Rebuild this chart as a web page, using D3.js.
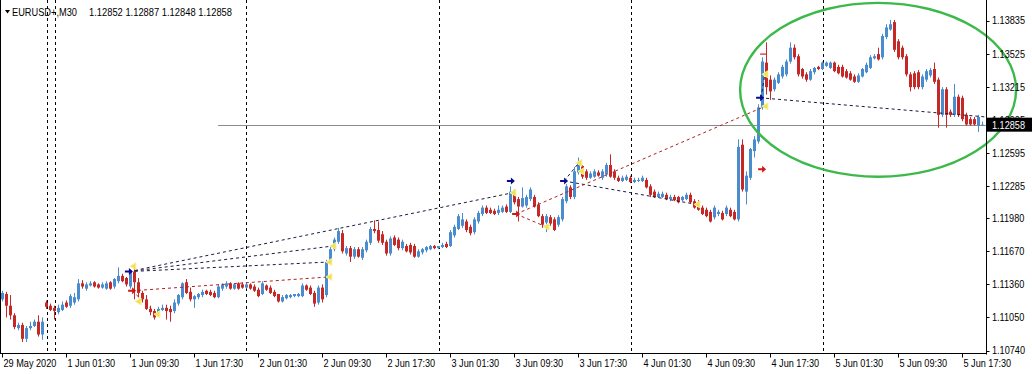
<!DOCTYPE html>
<html><head><meta charset="utf-8">
<script src="https://cdn.jsdelivr.net/npm/d3@7"></script>
<style>body{margin:0;background:#fff;}svg{display:block;}</style>
</head><body>
<svg id="c" width="1032" height="374"></svg>
<script>
const symbolTitle = "EURUSD+,M30";
const titleQuote = "1.12852 1.12887 1.12848 1.12858";
const lastPrice = 1.12858;
const lastPriceLabel = "1.12858";

const opens = [1.1122,1.1127,1.1116,1.1107,1.1095,1.1098,1.1085,1.1095,1.1097,1.1101,1.1089,1.1119,1.1116,1.1114,1.1110,1.1112,1.1119,1.1116,1.1119,1.1122,
1.1137,1.1132,1.1135,1.1138,1.1136,1.1133,1.1132,1.1138,1.1134,1.1139,1.1144,1.1142,1.1134,1.1148,1.1138,1.1128,1.1122,1.1113,1.1111,1.1108,
1.1112,1.1114,1.1113,1.1111,1.1118,1.1124,1.1138,1.1129,1.1122,1.1124,1.1126,1.1130,1.1129,1.1128,1.1124,1.1132,1.1134,1.1137,1.1132,1.1137,
1.1136,1.1133,1.1136,1.1134,1.1131,1.1127,1.1135,1.1133,1.1129,1.1127,1.1120,1.1123,1.1124,1.1125,1.1125,1.1125,1.1135,1.1133,1.1128,1.1119,
1.1133,1.1126,1.1157,1.1169,1.1176,1.1184,1.1165,1.1170,1.1162,1.1169,1.1161,1.1168,1.1175,1.1188,1.1187,1.1183,1.1176,1.1165,1.1180,1.1178,
1.1170,1.1172,1.1173,1.1172,1.1162,1.1166,1.1168,1.1169,1.1172,1.1170,1.1171,1.1174,1.1172,1.1182,1.1188,1.1191,1.1195,1.1190,1.1185,1.1195,
1.1202,1.1208,1.1206,1.1205,1.1203,1.1204,1.1209,1.1204,1.1222,1.1216,1.1209,1.1210,1.1216,1.1218,1.1211,1.1200,1.1194,1.1199,1.1197,1.1192,
1.1197,1.1214,1.1227,1.1218,1.1241,1.1247,1.1242,1.1236,1.1237,1.1241,1.1236,1.1239,1.1248,1.1242,1.1236,1.1233,1.1234,1.1236,1.1232,1.1233,
1.1233,1.1234,1.1228,1.1223,1.1218,1.1218,1.1220,1.1216,1.1218,1.1218,1.1215,1.1216,1.1220,1.1214,1.1213,1.1208,1.1206,1.1204,1.1199,1.1202,
1.1203,1.1202,1.1206,1.1204,1.1197,1.1267,1.1223,1.1236,1.1261,1.1270,1.1302,1.1344,1.1328,1.1319,1.1325,1.1331,1.1333,1.1345,1.1358,1.1350,
1.1338,1.1333,1.1328,1.1335,1.1340,1.1338,1.1341,1.1339,1.1344,1.1340,1.1340,1.1336,1.1334,1.1331,1.1326,1.1331,1.1335,1.1339,1.1348,1.1352,
1.1349,1.1368,1.1375,1.1382,1.1364,1.1358,1.1350,1.1333,1.1334,1.1335,1.1321,1.1328,1.1332,1.1338,1.1328,1.1295,1.1319,1.1298,1.1295,1.1312,
1.1311,1.1295,1.1291,1.1291,1.1285,1.12852];
const highs = [1.1130,1.1129,1.1126,1.1109,1.1100,1.1100,1.1097,1.1101,1.1103,1.1107,1.1105,1.1121,1.1118,1.1116,1.1117,1.1120,1.1121,1.1127,1.1128,1.1141,
1.1140,1.1138,1.1139,1.1139,1.1137,1.1138,1.1139,1.1139,1.1142,1.1152,1.1146,1.1143,1.1150,1.1152,1.1142,1.1130,1.1126,1.1116,1.1113,1.1115,
1.1117,1.1117,1.1116,1.1122,1.1127,1.1138,1.1141,1.1133,1.1126,1.1128,1.1131,1.1131,1.1131,1.1130,1.1136,1.1137,1.1139,1.1138,1.1137,1.1138,
1.1138,1.1138,1.1137,1.1136,1.1133,1.1139,1.1136,1.1135,1.1131,1.1127,1.1126,1.1127,1.1127,1.1127,1.1128,1.1137,1.1136,1.1135,1.1130,1.1135,
1.1136,1.1159,1.1171,1.1180,1.1189,1.1187,1.1172,1.1172,1.1171,1.1171,1.1171,1.1178,1.1190,1.1196,1.1195,1.1186,1.1178,1.1181,1.1182,1.1180,
1.1178,1.1174,1.1175,1.1174,1.1169,1.1170,1.1172,1.1173,1.1173,1.1172,1.1175,1.1176,1.1187,1.1192,1.1202,1.1203,1.1197,1.1192,1.1199,1.1205,
1.1210,1.1210,1.1208,1.1207,1.1210,1.1210,1.1211,1.1228,1.1225,1.1218,1.1227,1.1220,1.1227,1.1220,1.1213,1.1202,1.1202,1.1201,1.1199,1.1201,
1.1218,1.1230,1.1229,1.1246,1.1255,1.1248,1.1244,1.1242,1.1244,1.1243,1.1244,1.1250,1.1258,1.1244,1.1238,1.1238,1.1239,1.1238,1.1236,1.1236,
1.1238,1.1236,1.1230,1.1225,1.1223,1.1223,1.1222,1.1220,1.1220,1.1219,1.1219,1.1222,1.1222,1.1216,1.1215,1.1210,1.1208,1.1206,1.1210,1.1206,
1.1205,1.1210,1.1208,1.1206,1.1272,1.1272,1.1242,1.1264,1.1275,1.1305,1.1349,1.1363,1.1332,1.1330,1.1335,1.1342,1.1347,1.1363,1.1361,1.1352,
1.1339,1.1335,1.1338,1.1340,1.1341,1.1345,1.1345,1.1345,1.1345,1.1342,1.1342,1.1338,1.1336,1.1333,1.1334,1.1339,1.1344,1.1351,1.1352,1.1358,
1.1371,1.1380,1.1384,1.1384,1.1366,1.1360,1.1352,1.1335,1.1336,1.1337,1.1333,1.1338,1.1339,1.1344,1.1330,1.1321,1.1321,1.1300,1.1324,1.1314,
1.1313,1.1297,1.1293,1.1293,1.1295,1.12887];
const lows = [1.1120,1.1105,1.1103,1.1094,1.1093,1.1082,1.1082,1.1093,1.1096,1.1087,1.1084,1.1113,1.1111,1.1103,1.1108,1.1111,1.1114,1.1114,1.1117,1.1120,
1.1132,1.1130,1.1134,1.1133,1.1132,1.1132,1.1131,1.1131,1.1132,1.1137,1.1138,1.1134,1.1132,1.1122,1.1124,1.1119,1.1112,1.1107,1.1103,1.1106,
1.1111,1.1103,1.1101,1.1109,1.1116,1.1122,1.1127,1.1120,1.1114,1.1122,1.1124,1.1126,1.1125,1.1123,1.1123,1.1130,1.1132,1.1131,1.1131,1.1131,
1.1132,1.1132,1.1131,1.1129,1.1124,1.1126,1.1130,1.1127,1.1124,1.1119,1.1119,1.1122,1.1123,1.1124,1.1124,1.1124,1.1130,1.1126,1.1115,1.1117,
1.1119,1.1124,1.1156,1.1167,1.1174,1.1165,1.1163,1.1157,1.1160,1.1161,1.1159,1.1166,1.1173,1.1184,1.1175,1.1173,1.1163,1.1163,1.1172,1.1168,
1.1168,1.1166,1.1164,1.1161,1.1161,1.1164,1.1166,1.1168,1.1169,1.1169,1.1170,1.1170,1.1171,1.1180,1.1187,1.1189,1.1185,1.1182,1.1183,1.1193,
1.1200,1.1202,1.1202,1.1201,1.1201,1.1203,1.1203,1.1203,1.1211,1.1195,1.1208,1.1208,1.1214,1.1208,1.1199,1.1189,1.1185,1.1191,1.1186,1.1190,
1.1195,1.1212,1.1216,1.1216,1.1239,1.1235,1.1234,1.1235,1.1236,1.1237,1.1234,1.1237,1.1236,1.1234,1.1232,1.1232,1.1233,1.1231,1.1231,1.1232,
1.1232,1.1226,1.1218,1.1217,1.1217,1.1217,1.1215,1.1214,1.1214,1.1212,1.1214,1.1215,1.1212,1.1207,1.1205,1.1201,1.1199,1.1194,1.1197,1.1200,
1.1196,1.1200,1.1199,1.1196,1.1195,1.1223,1.1211,1.1234,1.1255,1.1268,1.1300,1.1314,1.1309,1.1317,1.1324,1.1329,1.1331,1.1343,1.1347,1.1331,
1.1329,1.1326,1.1327,1.1333,1.1337,1.1337,1.1340,1.1338,1.1335,1.1333,1.1330,1.1329,1.1327,1.1325,1.1325,1.1330,1.1334,1.1338,1.1347,1.1346,
1.1347,1.1366,1.1374,1.1354,1.1347,1.1347,1.1331,1.1317,1.1319,1.1319,1.1319,1.1326,1.1330,1.1324,1.1283,1.1293,1.1283,1.1293,1.1293,1.1293,
1.1289,1.1285,1.1285,1.1285,1.1279,1.12848];
const closes = [1.1128,1.1116,1.1107,1.1096,1.1098,1.1085,1.1095,1.1097,1.1101,1.1089,1.1101,1.1115,1.1112,1.1111,1.1114,1.1117,1.1115,1.1125,1.1124,1.1137,
1.1134,1.1136,1.1137,1.1134,1.1133,1.1136,1.1137,1.1132,1.1141,1.1144,1.1139,1.1136,1.1148,1.1138,1.1128,1.1122,1.1113,1.1110,1.1105,1.1113,
1.1114,1.1111,1.1110,1.1119,1.1126,1.1137,1.1128,1.1122,1.1125,1.1127,1.1129,1.1127,1.1126,1.1124,1.1134,1.1136,1.1137,1.1132,1.1136,1.1132,
1.1133,1.1136,1.1132,1.1130,1.1125,1.1137,1.1131,1.1128,1.1125,1.1120,1.1124,1.1126,1.1126,1.1127,1.1127,1.1135,1.1131,1.1127,1.1118,1.1133,
1.1122,1.1157,1.1169,1.1178,1.1186,1.1167,1.1170,1.1162,1.1169,1.1162,1.1169,1.1176,1.1188,1.1186,1.1177,1.1175,1.1165,1.1179,1.1173,1.1170,
1.1176,1.1167,1.1166,1.1162,1.1167,1.1169,1.1171,1.1172,1.1170,1.1172,1.1173,1.1171,1.1185,1.1190,1.1200,1.1197,1.1187,1.1184,1.1197,1.1203,
1.1208,1.1203,1.1203,1.1202,1.1206,1.1208,1.1204,1.1223,1.1213,1.1209,1.1217,1.1218,1.1225,1.1209,1.1200,1.1192,1.1200,1.1193,1.1187,1.1199,
1.1216,1.1228,1.1218,1.1242,1.1250,1.1237,1.1236,1.1240,1.1242,1.1238,1.1242,1.1248,1.1237,1.1236,1.1233,1.1236,1.1237,1.1232,1.1234,1.1234,
1.1236,1.1227,1.1220,1.1218,1.1221,1.1221,1.1216,1.1218,1.1215,1.1213,1.1218,1.1220,1.1213,1.1208,1.1206,1.1202,1.1200,1.1195,1.1208,1.1204,
1.1197,1.1208,1.1200,1.1197,1.1265,1.1225,1.1238,1.1263,1.1272,1.1302,1.1345,1.1321,1.1317,1.1328,1.1333,1.1340,1.1345,1.1358,1.1349,1.1333,
1.1331,1.1328,1.1336,1.1339,1.1338,1.1344,1.1344,1.1344,1.1336,1.1334,1.1331,1.1330,1.1328,1.1326,1.1332,1.1338,1.1342,1.1349,1.1350,1.1347,
1.1369,1.1377,1.1380,1.1356,1.1349,1.1349,1.1333,1.1321,1.1321,1.1321,1.1331,1.1336,1.1337,1.1326,1.1295,1.1319,1.1295,1.1295,1.1312,1.1295,
1.1291,1.1286,1.1286,1.1286,1.1293,1.12858];

const xTickLabels = ["29 May 2020","1 Jun 01:30","1 Jun 09:30","1 Jun 17:30","2 Jun 01:30","2 Jun 09:30","2 Jun 17:30","3 Jun 01:30",
"3 Jun 09:30","3 Jun 17:30","4 Jun 01:30","4 Jun 09:30","4 Jun 17:30","5 Jun 01:30","5 Jun 09:30","5 Jun 17:30"];
const xTickBars = [0,16,32,48,64,80,96,112,128,144,160,176,192,208,224,240];
const yTickLabels = ["1.13835","1.13525","1.13215","1.12905","1.12595","1.12285","1.11980","1.11670","1.11360","1.11050","1.10740"];
const separatorBars = [11.25,13,61,109,157,205];

const buyArrows = [[31.6,1.1148],[127.1,1.1233],[140.4,1.1233],[189.4,1.1311]];
const sellArrows = [[32.4,1.1130],[128.4,1.1202],[189.9,1.1244]];
const closeMarks = [[32.6,1.1153],[33.9,1.1120],[38.6,1.1108],[81.6,1.1157],[82.6,1.1172],[81.6,1.1143],[127.6,1.1222],
[135.9,1.1190],[144.1,1.1250],[144.6,1.1242],[173.6,1.1211],[190.6,1.1333],[190.6,1.1303]];
const buyLines = [[31.6,1.1148,127.6,1.1222],[31.6,1.1148,82.6,1.1172],[31.6,1.1148,81.6,1.1157],[140.4,1.1233,144.1,1.1250],
[140.4,1.1233,173.6,1.1211],[189.4,1.1311,246,1.1293],[189.6,1.1311,190.6,1.1333]];
const sellLines = [[32.4,1.1130,81.6,1.1143],[32.4,1.1130,38.6,1.1108],[128.4,1.1202,135.9,1.1190],[128.4,1.1202,190.6,1.1303]];
const stopMark = [189.4,191.1,1.1352];
const ellipseBars = [184.4,253.4];
const ellipsePrices = [1.1400,1.1237];
const priceLineStartBar = 53.9;

const plotRight = 986.5, plotBottom = 353.5;
const svg = d3.select("#c");
const x = d3.scaleLinear().domain([0, 246]).range([2.5, 986.5]);
const y = d3.scaleLinear().domain([1.10740, 1.13835]).range([350.5, 20.5]);
const UP = "#4a8cd0", DN = "#c62828";
const FONT = "'Liberation Sans', Arial, sans-serif";

function narrow(sel, f) {
  sel.each(function(){ const L = this.getComputedTextLength(); this.setAttribute("textLength", (L*f).toFixed(1)); this.setAttribute("lengthAdjust","spacingAndGlyphs"); });
}

svg.append("g").selectAll("line").data(separatorBars).join("line")
  .attr("x1", d => Math.round(x(d)) + 0.5).attr("x2", d => Math.round(x(d)) + 0.5)
  .attr("y1", 0).attr("y2", plotBottom)
  .attr("stroke", "#000").attr("stroke-width", 1).attr("stroke-dasharray", "3,3");

svg.append("line").attr("x1", x(priceLineStartBar)).attr("x2", plotRight)
  .attr("y1", Math.round(y(lastPrice)) + 0.5).attr("y2", Math.round(y(lastPrice)) + 0.5)
  .attr("stroke", "#8c8c8c").attr("stroke-width", 1);

const idx = d3.range(opens.length);
const cg = svg.append("g");
cg.selectAll("line").data(idx).join("line")
  .attr("x1", i => x(i)).attr("x2", i => x(i))
  .attr("y1", i => y(Math.max(highs[i], opens[i], closes[i])))
  .attr("y2", i => y(Math.min(lows[i], opens[i], closes[i])))
  .attr("stroke", i => closes[i] >= opens[i] ? UP : DN).attr("stroke-width", 1);
cg.selectAll("rect").data(idx).join("rect")
  .attr("x", i => x(i) - 1.5).attr("width", 3)
  .attr("y", i => y(Math.max(opens[i], closes[i])))
  .attr("height", i => Math.max(1, Math.abs(y(opens[i]) - y(closes[i]))))
  .attr("fill", i => closes[i] >= opens[i] ? UP : DN);

svg.append("g").selectAll("line").data(buyLines).join("line")
  .attr("x1", d => x(d[0])).attr("y1", d => y(d[1])).attr("x2", d => x(d[2])).attr("y2", d => y(d[3]))
  .attr("stroke", "#1a1a40").attr("stroke-width", 1).attr("stroke-dasharray", "3,3");
svg.append("g").selectAll("line").data(sellLines).join("line")
  .attr("x1", d => x(d[0])).attr("y1", d => y(d[1])).attr("x2", d => x(d[2])).attr("y2", d => y(d[3]))
  .attr("stroke", "#b02020").attr("stroke-width", 1).attr("stroke-dasharray", "3,3");

const arrowPath = "M-4,-1L0,-1L0,-3.5L4,0L0,3.5L0,1L-4,1Z";
svg.append("g").selectAll("path").data(closeMarks).join("path")
  .attr("d", "M-3,0L3,-3.5L3,3.5Z").attr("transform", d => `translate(${x(d[0])},${y(d[1])})`)
  .attr("fill", "#f2e24a").attr("stroke", "#f8f0a0").attr("stroke-width", 1);
svg.append("g").selectAll("path").data(buyArrows).join("path")
  .attr("d", arrowPath).attr("transform", d => `translate(${x(d[0])},${y(d[1])})`).attr("fill", "#0a0a90");
svg.append("g").selectAll("path").data(sellArrows).join("path")
  .attr("d", arrowPath).attr("transform", d => `translate(${x(d[0])},${y(d[1])})`).attr("fill", "#d01818");
svg.append("line").attr("x1", x(stopMark[0])).attr("x2", x(stopMark[1])).attr("y1", y(stopMark[2])).attr("y2", y(stopMark[2]))
  .attr("stroke", "#c62828").attr("stroke-width", 1.2);

svg.append("ellipse")
  .attr("cx", (x(ellipseBars[0]) + x(ellipseBars[1])) / 2)
  .attr("cy", (y(ellipsePrices[0]) + y(ellipsePrices[1])) / 2)
  .attr("rx", (x(ellipseBars[1]) - x(ellipseBars[0])) / 2)
  .attr("ry", (y(ellipsePrices[1]) - y(ellipsePrices[0])) / 2)
  .attr("fill", "none").attr("stroke", "#3cb94a").attr("stroke-width", 2.4);

svg.append("line").attr("x1", 0.5).attr("x2", 0.5).attr("y1", 0).attr("y2", plotBottom).attr("stroke", "#000");
svg.append("line").attr("x1", plotRight).attr("x2", plotRight).attr("y1", 0).attr("y2", plotBottom + 1).attr("stroke", "#000");
svg.append("line").attr("x1", 0).attr("x2", plotRight).attr("y1", plotBottom).attr("y2", plotBottom).attr("stroke", "#000");

const yg = svg.append("g");
yg.selectAll("line").data(yTickLabels).join("line")
  .attr("x1", plotRight).attr("x2", plotRight + 3)
  .attr("y1", d => Math.round(y(+d)) + 0.5).attr("y2", d => Math.round(y(+d)) + 0.5).attr("stroke", "#000");
yg.selectAll("text").data(yTickLabels).join("text")
  .attr("x", 992).attr("y", d => y(+d)).attr("dy", "0.36em")
  .attr("font-family", FONT).attr("font-size", 11).attr("fill", "#000").text(d => d)
  .call(narrow, 0.83);

svg.append("rect").attr("x", 987).attr("y", y(lastPrice) - 7).attr("width", 45).attr("height", 14).attr("fill", "#000");
svg.append("text").attr("x", 992).attr("y", y(lastPrice)).attr("dy", "0.36em")
  .attr("font-family", FONT).attr("font-size", 11).attr("fill", "#fff").text(lastPriceLabel).call(narrow, 0.83);

const xg = svg.append("g");
xg.selectAll("line").data(xTickBars).join("line")
  .attr("x1", d => x(d)).attr("x2", d => x(d)).attr("y1", plotBottom).attr("y2", plotBottom + 4).attr("stroke", "#000");
xg.selectAll("text").data(xTickLabels).join("text")
  .attr("x", (d, i) => x(xTickBars[i]) + 1).attr("y", 367)
  .attr("font-family", FONT).attr("font-size", 11).attr("fill", "#000").text(d => d)
  .call(narrow, 0.83);

svg.append("path").attr("d", "M5,10L10,10L7.5,13.5Z").attr("fill", "#000");
svg.append("text").attr("x", 12).attr("y", 16).attr("font-family", FONT).attr("font-size", 11).attr("fill", "#000")
  .text(symbolTitle).call(narrow, 0.84);
svg.append("text").attr("x", 89).attr("y", 16).attr("font-family", FONT).attr("font-size", 11).attr("fill", "#000")
  .text(titleQuote).call(narrow, 0.85);
</script>
</body></html>
